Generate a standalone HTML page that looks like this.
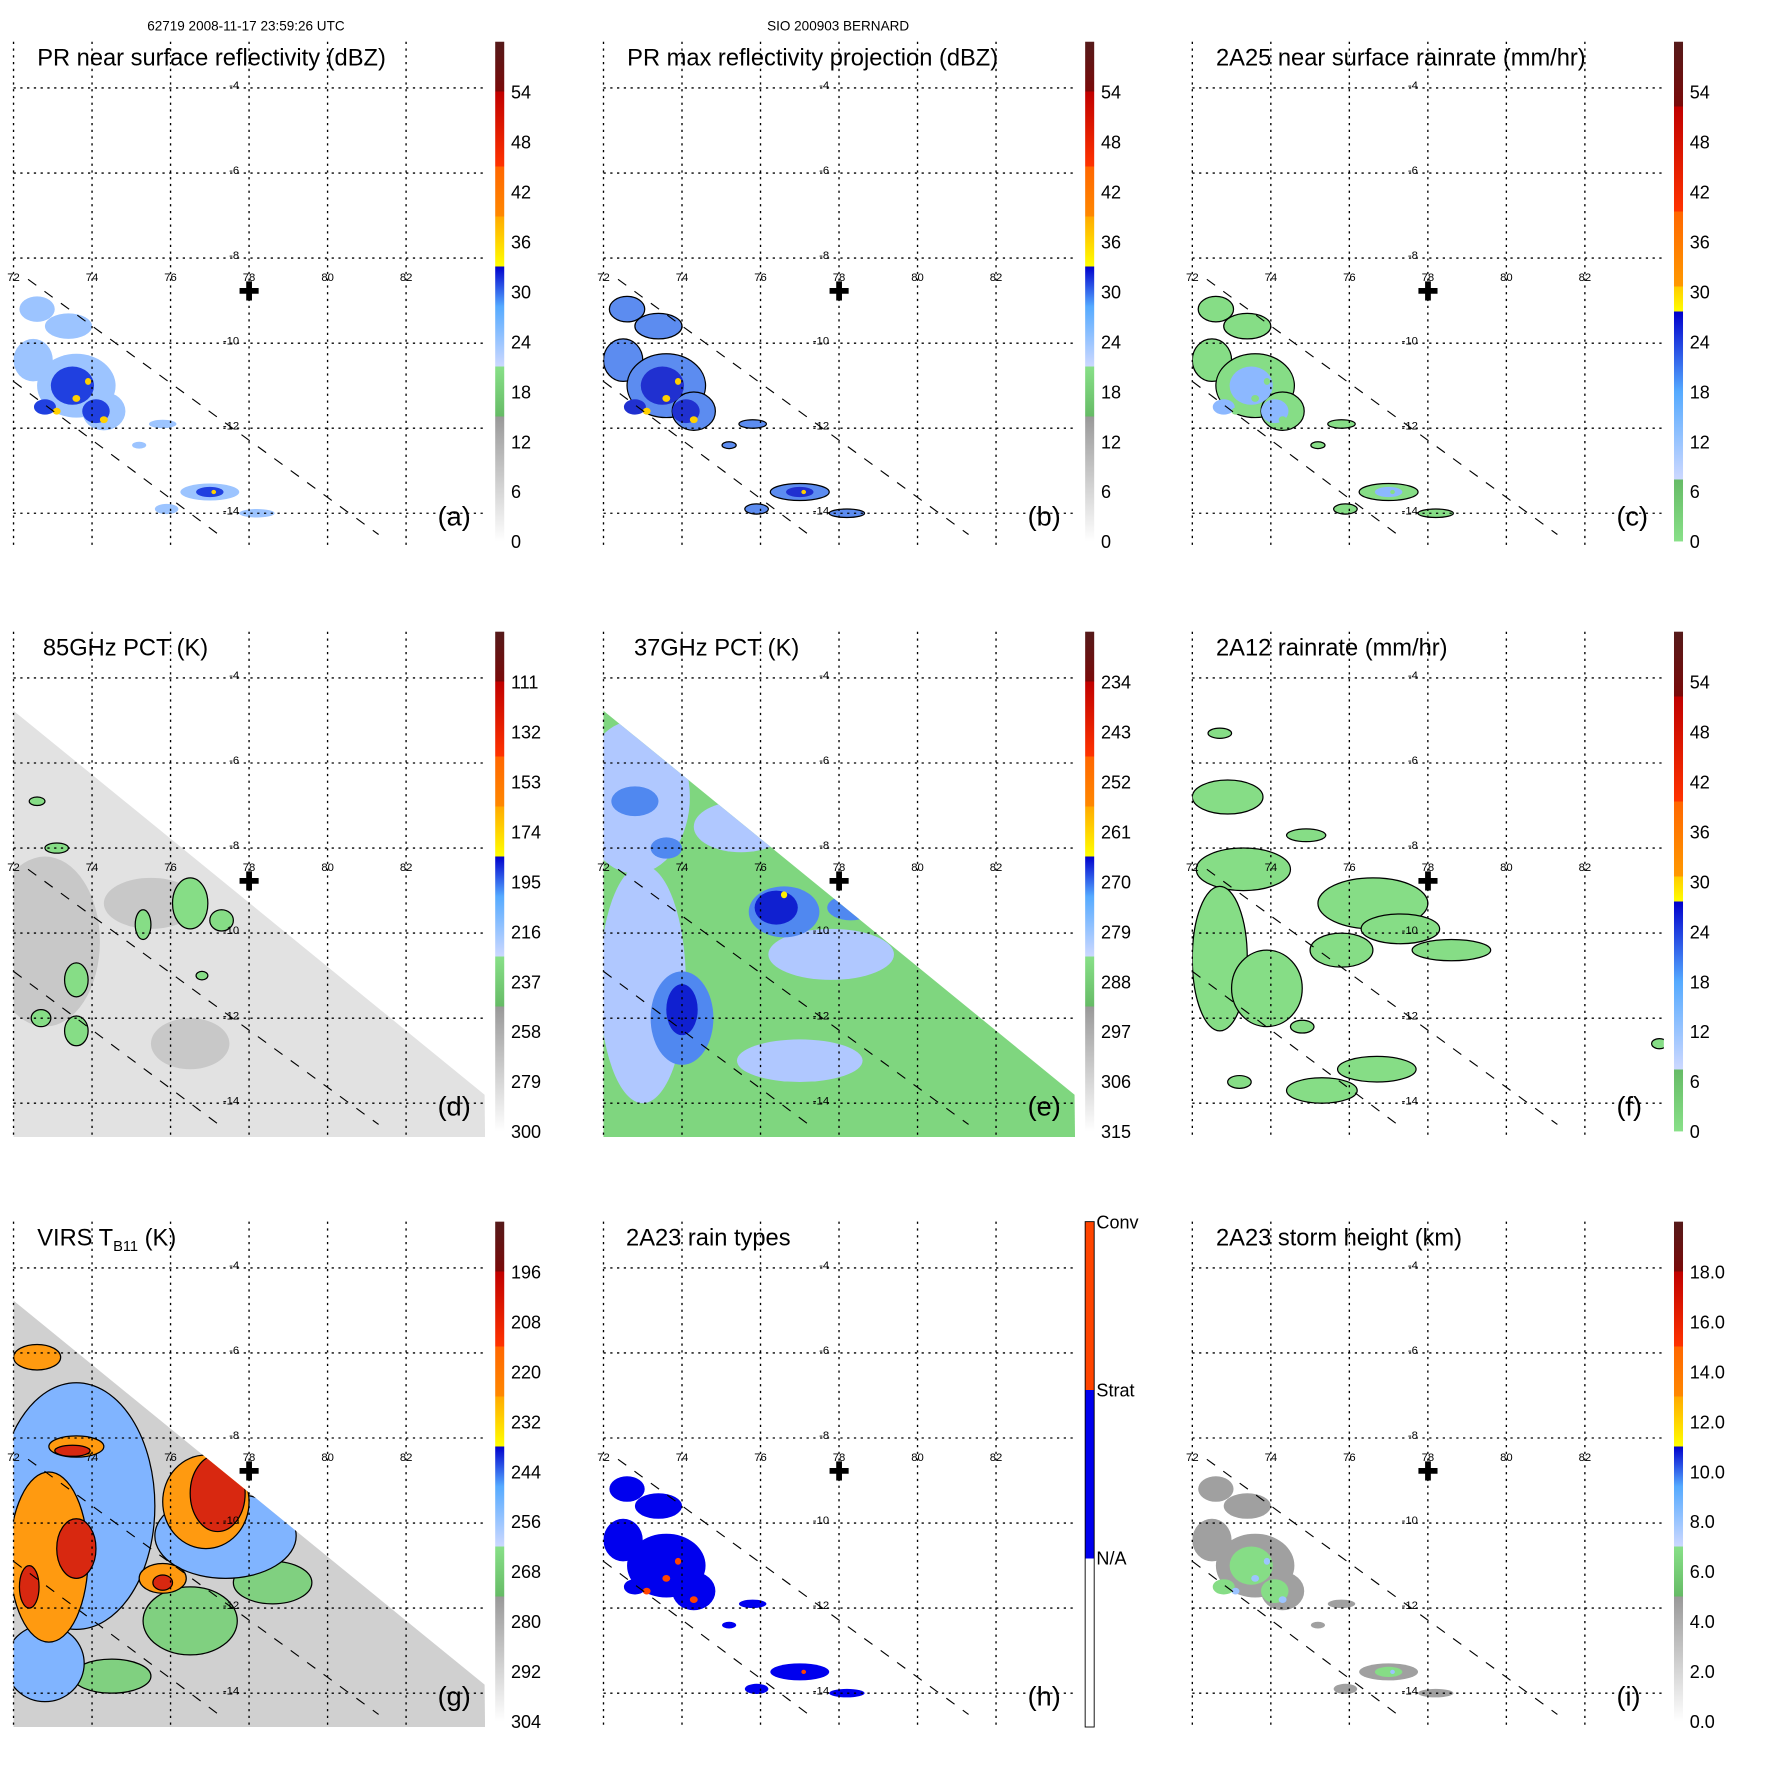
<!DOCTYPE html>
<html><head><meta charset="utf-8">
<style>
html,body{margin:0;padding:0;background:#fff;}
svg{display:block;font-family:"Liberation Sans",sans-serif;}
</style></head>
<body>
<svg id="fig" width="1771" height="1771" viewBox="0 0 1570 1570" xmlns="http://www.w3.org/2000/svg">
<text x="218" y="27" font-size="12" text-anchor="middle">62719 2008-11-17 23:59:26 UTC</text>
<text x="743" y="27" font-size="12" text-anchor="middle">SIO 200903 BERNARD</text>
</svg>
<script>
const NS="http://www.w3.org/2000/svg";
const fig=document.getElementById('fig');
const lonTicks=[72,74,76,78,80,82];
const latTicks=[-4,-6,-8,-10,-12,-14];
const stdLabels=["0","6","12","18","24","30","36","42","48","54"];
const pct85Labels=["300","279","258","237","216","195","174","153","132","111"];
const pct37Labels=["315","306","297","288","279","270","261","252","243","234"];
const virsLabels=["304","292","280","268","256","244","232","220","208","196"];
const heightLabels=["0.0","2.0","4.0","6.0","8.0","10.0","12.0","14.0","16.0","18.0"];
const rainTypeLabels=["N/A","Strat","Conv"];
const swathUpper=[[72.37,-8.5],[81.3,-14.5]];
const swathLower=[[72.0,-10.9],[77.37,-14.6]];
const pmEdge=[[72.0,-4.77],[84.0,-13.8]];
const prBlobs=[[72.6,-9.2,0.45,0.3],[73.4,-9.6,0.6,0.3],[72.5,-10.4,0.5,0.5],[73.6,-11.0,1.0,0.75],[74.3,-11.6,0.55,0.45],[75.8,-11.9,0.35,0.1],[77.0,-13.5,0.75,0.2],[75.9,-13.9,0.3,0.12],[78.2,-14.0,0.45,0.1],[75.2,-12.4,0.18,0.08]];
const prCores=[[73.5,-11.0,0.55,0.45],[74.1,-11.6,0.35,0.28],[72.8,-11.5,0.28,0.18],[77.0,-13.5,0.35,0.12]];
const prHot=[[73.6,-11.3,0.1,0.08],[73.1,-11.6,0.1,0.08],[74.3,-11.8,0.1,0.08],[73.9,-10.9,0.08,0.08],[77.1,-13.5,0.06,0.05]];
const f12Blobs=[[72.7,-5.3,0.3,0.12],[72.9,-6.8,0.9,0.4],[74.9,-7.7,0.5,0.15],[73.3,-8.5,1.2,0.5],[72.7,-10.6,0.7,1.7],[73.9,-11.3,0.9,0.9],[76.6,-9.3,1.4,0.6],[77.3,-9.9,1.0,0.35],[78.6,-10.4,1.0,0.25],[75.8,-10.4,0.8,0.4],[76.7,-13.2,1.0,0.3],[75.3,-13.7,0.9,0.3],[73.2,-13.5,0.3,0.15],[74.8,-12.2,0.3,0.15],[83.9,-12.6,0.2,0.12]];
const d85Dark=[[72.8,-10.2,1.4,2.0],[75.5,-9.3,1.2,0.6],[76.5,-12.6,1.0,0.6]];
const d85Blobs=[[76.5,-9.3,0.45,0.6],[77.3,-9.7,0.3,0.25],[75.3,-9.8,0.2,0.35],[73.6,-11.1,0.3,0.4],[73.6,-12.3,0.3,0.35],[72.7,-12.0,0.25,0.2],[73.1,-8.0,0.3,0.12],[72.6,-6.9,0.2,0.1],[76.8,-11.0,0.15,0.1]];
const e37Light=[[72.8,-6.8,1.4,1.8],[73.0,-11.2,1.1,2.8],[77.0,-13.0,1.6,0.5],[77.8,-10.5,1.6,0.6],[75.5,-7.5,1.2,0.6]];
const e37Blue=[[76.6,-9.5,0.9,0.6],[74.0,-12.0,0.8,1.1],[73.6,-8.0,0.4,0.25],[72.8,-6.9,0.6,0.35],[78.3,-9.4,0.6,0.3]];
const e37Dark=[[76.4,-9.4,0.55,0.4],[74.0,-11.8,0.4,0.6]];
const gBlue=[[73.6,-9.6,2.0,2.9],[77.4,-10.3,1.8,1.0],[72.8,-13.3,1.0,0.9]];
const gGreen=[[76.5,-12.3,1.2,0.8],[78.6,-11.4,1.0,0.5],[74.5,-13.6,1.0,0.4]];
const gOrange=[[72.9,-10.8,1.0,2.0],[76.9,-9.5,1.1,1.1],[72.6,-6.1,0.6,0.3],[73.6,-8.2,0.7,0.25],[75.8,-11.3,0.6,0.35]];
const gRed=[[73.6,-10.6,0.5,0.7],[77.2,-9.3,0.7,0.9],[73.5,-8.3,0.45,0.13],[72.4,-11.5,0.25,0.5],[75.8,-11.4,0.25,0.18]];

function el(tag,attrs,parent){const e=document.createElementNS(NS,tag);for(const k in attrs)e.setAttribute(k,attrs[k]);(parent||fig).appendChild(e);return e;}
function X(lon){return 12+(lon-72)*34.8;}
function Y(lat){return 78+(-4-lat)*37.7;}

const STD=[[0,'#ffffff'],[0.25,'#999999'],[0.25,'#66bb66'],[0.35,'#88e088'],[0.35,'#ccd8ff'],[0.47,'#55aaff'],[0.55,'#0000cc'],[0.55,'#ffff00'],[0.65,'#ffaa00'],[0.65,'#ff8800'],[0.75,'#ff6600'],[0.75,'#ff3300'],[0.9,'#c00000'],[0.9,'#7a0a0a'],[1,'#551a1a']];
const RAIN=[[0,'#88e088'],[0.124,'#66bb66'],[0.124,'#ccd8ff'],[0.3,'#55aaff'],[0.46,'#0000cc'],[0.46,'#ffff00'],[0.51,'#ffcc00'],[0.51,'#ff9900'],[0.66,'#ff6600'],[0.66,'#ff3300'],[0.87,'#c00000'],[0.87,'#7a0a0a'],[1,'#551a1a']];
const TYPES=[[0,'#ffffff'],[0.333,'#ffffff'],[0.333,'#0000ee'],[0.667,'#0000ee'],[0.667,'#ff4400'],[1,'#ff4400']];

const panels=[
 {id:'a',ox:0,oy:0,title:'PR near surface reflectivity (dBZ)',tx:33,bar:STD,labels:stdLabels,kind:'pr'},
 {id:'b',ox:523,oy:0,title:'PR max reflectivity projection (dBZ)',tx:556,bar:STD,labels:stdLabels,kind:'prmax'},
 {id:'c',ox:1045,oy:0,title:'2A25 near surface rainrate (mm/hr)',tx:1078,bar:RAIN,labels:stdLabels,kind:'rr'},
 {id:'d',ox:0,oy:523,title:'85GHz PCT (K)',tx:38,bar:STD,labels:pct85Labels,kind:'d85'},
 {id:'e',ox:523,oy:523,title:'37GHz PCT (K)',tx:562,bar:STD,labels:pct37Labels,kind:'e37'},
 {id:'f',ox:1045,oy:523,title:'2A12 rainrate (mm/hr)',tx:1078,bar:RAIN,labels:stdLabels,kind:'f12'},
 {id:'g',ox:0,oy:1046,title:'VIRS',tx:33,bar:STD,labels:virsLabels,kind:'virs'},
 {id:'h',ox:523,oy:1046,title:'2A23 rain types',tx:555,bar:TYPES,labels:rainTypeLabels,kind:'types'},
 {id:'i',ox:1045,oy:1046,title:'2A23 storm height (km)',tx:1078,bar:STD,labels:heightLabels,kind:'height'}
];

function blobs(g,arr,fill,stroke){
  arr.forEach(b=>{
    const e=el('ellipse',{cx:X(b[0]),cy:Y(b[1]),rx:b[2]*34.8,ry:b[3]*37.7,fill:fill},g);
    
    
    if(stroke){e.setAttribute('stroke',stroke);e.setAttribute('stroke-width','1.1');}
  });
}

panels.forEach(p=>{
  const g=el('g',{transform:`translate(${p.ox},${p.oy})`});
  
  
  const cp=el('clipPath',{id:'clip'+p.id},g);
  el('rect',{x:12,y:37,width:418,height:448},cp);
  const tp=el('clipPath',{id:'tri'+p.id},g);
  el('polygon',{points:`${X(pmEdge[0][0])},${Y(pmEdge[0][1])} ${X(pmEdge[1][0])},${Y(pmEdge[1][1])} 430,485 12,485`},tp);
  const data=el('g',{'clip-path':`url(#clip${p.id})`},g);
  
  
  if(p.kind==='d85'||p.kind==='e37'||p.kind==='virs'){
    const tg=el('g',{'clip-path':`url(#tri${p.id})`},data);
    const base={d85:'#e2e2e2',e37:'#7fd67f',virs:'#d0d0d0'}[p.kind];
    el('rect',{x:0,y:0,width:440,height:490,fill:base},tg);
    if(p.kind==='d85'){blobs(tg,d85Dark,'#c8c8c8');blobs(tg,d85Blobs,'#86dd86','#000');}
    if(p.kind==='e37'){blobs(tg,e37Light,'#b0c8ff');blobs(tg,e37Blue,'#5088f0');blobs(tg,e37Dark,'#1020d0');blobs(tg,[[76.6,-9.1,0.08,0.08]],'#ffee00');}
    if(p.kind==='virs'){blobs(tg,gGreen,'#80d080','#000');blobs(tg,gBlue,'#80b4ff','#000');blobs(tg,gOrange,'#ff9a10','#000');blobs(tg,gRed,'#d82810','#000');}
  } else if(p.kind==='f12'){
    blobs(data,f12Blobs,'#86dd86','#000');
  } else {
    const pal={pr:['#9cc4ff','#2040e0','#ffd000'],prmax:['#5c8cf0','#2030d0','#ffd000'],rr:['#86dd86','#8cb8ff','#86dd86'],types:['#0000ee','#0000ee','#ff4400'],height:['#a0a0a0','#86dd86','#9cc4ff']}[p.kind];
    const stroke=(p.kind==='prmax'||p.kind==='rr')?'#000':null;
    blobs(data,prBlobs,pal[0],stroke);
    blobs(data,prCores,pal[1]);
    blobs(data,prHot,pal[2]);
  }
  lonTicks.forEach(l=>{const ln=el('line',{x1:X(l),x2:X(l),y1:37,y2:485,stroke:'#000','stroke-width':1.2,'stroke-dasharray':'2 4'},g);
    const t=el('text',{x:X(l),y:249,'font-size':10,'text-anchor':'middle'},g);t.textContent=l;});
  latTicks.forEach(l=>{const ln=el('line',{x1:12,x2:430,y1:Y(l),y2:Y(l),stroke:'#000','stroke-width':1.2,'stroke-dasharray':'2 4'},g);
    const t=el('text',{x:212,y:Y(l)+1,'font-size':10,'text-anchor':'end'},g);t.textContent=l;});
  [swathUpper,swathLower].forEach(s=>{const ln=el('line',{x1:X(s[0][0]),y1:Y(s[0][1]),x2:X(s[1][0]),y2:Y(s[1][1]),stroke:'#000','stroke-width':1,'stroke-dasharray':'9 9'},g);});
  const pl=el('text',{x:X(78),y:Y(-8.8)+7,'font-size':22,'font-weight':'bold','text-anchor':'middle'},g);pl.textContent='✚';
  
  const t=el('text',{x:p.tx-p.ox,y:58,'font-size':21},g);
  
  if(p.kind==='virs'){t.textContent='VIRS T';const s=el('tspan',{'font-size':13,dy:5},t);s.textContent='B11';const s2=el('tspan',{dy:-5},t);s2.textContent=' (K)';}
  else t.textContent=p.title;
  const lt=el('text',{x:388,y:466,'font-size':24},g);lt.textContent='('+p.id+')';
  
  const gid='cb'+p.id;
  const lg=el('linearGradient',{id:gid,x1:0,y1:1,x2:0,y2:0},g);
  p.bar.forEach(s=>el('stop',{offset:s[0],'stop-color':s[1]},lg));
  const cb=el('rect',{x:439,y:37,width:8,height:p.kind==='types'?448:443,fill:`url(#${gid})`,stroke:p.kind==='types'?'#000':'none','stroke-width':0.8},g);
  
  if(p.kind==='types'){
    p.labels.forEach((lab,i)=>{const tx=el('text',{x:449,y:[341,192,43][i],'font-size':16},g);tx.textContent=lab;});
  } else {
    p.labels.forEach((lab,i)=>{const tx=el('text',{x:453,y:480-i*44.3+6,'font-size':16},g);tx.textContent=lab;});
  }
});
</script>
</body></html>
